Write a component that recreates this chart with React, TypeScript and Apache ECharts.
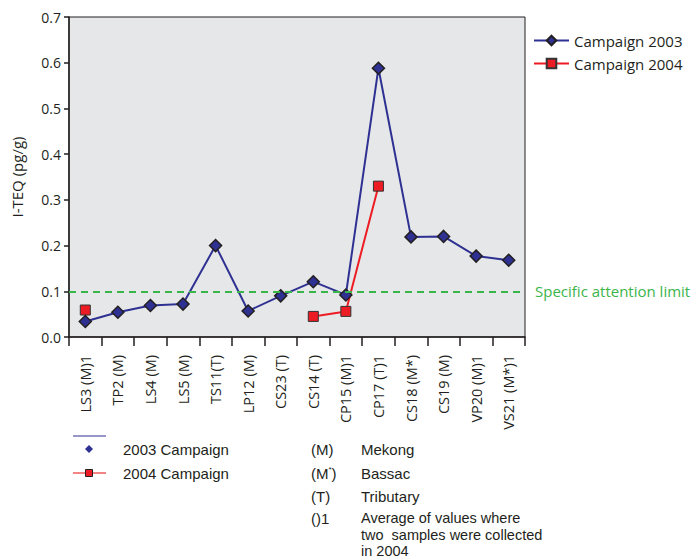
import React, { useEffect, useRef } from "react";
import * as echarts from "echarts";

const categories = [
  "LS3 (M)1", "TP2 (M)", "LS4 (M)", "LS5 (M)", "TS11(T)", "LP12 (M)", "CS23 (T)",
  "CS14 (T)", "CP15 (M)1", "CP17 (T)1", "CS18 (M*)", "CS19 (M)", "VP20 (M)1", "VS21 (M*)1",
];
const campaign2003 = [0.034, 0.054, 0.069, 0.072, 0.2, 0.057, 0.09, 0.121, 0.092, 0.588, 0.219, 0.22, 0.177, 0.168];
const campaign2004: (number | null)[] = [0.059, null, null, null, null, null, null, 0.045, 0.056, 0.33, null, null, null, null];
const yTicks = [0, 0.1, 0.2, 0.3, 0.4, 0.5, 0.6, 0.7];
const attentionLimit = 0.1;
const seriesNames = ["Campaign 2003", "Campaign 2004"];
const noteLegend = ["2003 Campaign", "2004 Campaign"];
const codeKeys = ["(M)", "(M{sup|*})", "(T)", "()1"];
const codeTexts = ["Mekong", "Bassac", "Tributary"];
const averageNoteLines = ["Average of values where", "two  samples were collected", "in 2004"];

const FONT = "'Open Sans', sans-serif";
const NOTE_FONT = "'Liberation Sans', Arial, sans-serif";
const TXT = "#231f20";
const NAVY = "#2e3192";
const RED = "#ed1c24";
const GREEN = "#39b54a";

export default function App() {
  const ref = useRef<HTMLDivElement>(null);
  useEffect(() => {
    if (!ref.current) return;
    const chart = echarts.init(ref.current, null, { renderer: "svg" });
    const rowY = [449, 473, 496, 518];
    const noteY = [518, 535, 551];
    const graphics: any[] = [
      { type: "line", shape: { x1: 73, y1: 436, x2: 106, y2: 436 }, style: { stroke: NAVY, lineWidth: 1 } },
      { type: "polygon", shape: { points: [[89, 445], [93, 449], [89, 453], [85, 449]] }, style: { fill: NAVY } },
      { type: "line", shape: { x1: 73, y1: 473, x2: 106, y2: 473 }, style: { stroke: "#f15a5a", lineWidth: 1.5 } },
      { type: "rect", shape: { x: 85.5, y: 469.5, width: 7, height: 7 }, style: { fill: RED, stroke: TXT, lineWidth: 1 } },
      ...noteLegend.map((t, i) => ({
        type: "text", x: 123, y: rowY[i],
        style: { text: t, fill: TXT, fontSize: 15, fontFamily: NOTE_FONT, verticalAlign: "middle" },
      })),
      ...codeKeys.map((t, i) => ({
        type: "text", x: 311, y: rowY[i],
        style: {
          text: t, fill: TXT, fontSize: 15, fontFamily: NOTE_FONT, verticalAlign: "middle",
          rich: { sup: { fontSize: 8, fontFamily: NOTE_FONT, fill: TXT, verticalAlign: "top", padding: [0, 0, 8, 0] } },
        },
      })),
      ...codeTexts.map((t, i) => ({
        type: "text", x: 361, y: rowY[i],
        style: { text: t, fill: TXT, fontSize: 15, fontFamily: NOTE_FONT, verticalAlign: "middle" },
      })),
      ...averageNoteLines.map((t, i) => ({
        type: "text", x: 361, y: noteY[i],
        style: { text: t, fill: TXT, fontSize: 14.5, fontFamily: NOTE_FONT, verticalAlign: "middle" },
      })),
    ];
    chart.setOption({
      animation: false,
      textStyle: { fontFamily: FONT, color: TXT },
      grid: {
        left: 69, top: 17, right: 171, bottom: 222,
        show: true, backgroundColor: "#e6e7e8", borderColor: TXT, borderWidth: 1,
      },
      legend: {
        orient: "vertical", left: 533, top: 33, padding: 0,
        itemWidth: 35, itemHeight: 12, itemGap: 8,
        textStyle: { fontSize: 15, color: TXT, fontFamily: FONT },
        data: seriesNames,
      },
      xAxis: {
        type: "category", data: categories, boundaryGap: true,
        axisLine: { lineStyle: { color: TXT, width: 1.5 } },
        axisTick: { show: true, interval: 0, length: 9, lineStyle: { color: TXT, width: 1.5 } },
        axisLabel: { rotate: 90, interval: 0, margin: 18, fontSize: 14.5, color: TXT, fontFamily: FONT },
        splitLine: { show: false },
      },
      yAxis: {
        type: "value", min: yTicks[0], max: yTicks[yTicks.length - 1], interval: 0.1,
        name: "I-TEQ (pg/g)", nameLocation: "middle", nameGap: 45,
        nameTextStyle: { fontSize: 15, color: TXT, fontFamily: FONT },
        axisLine: { show: true, lineStyle: { color: TXT, width: 1.5 } },
        axisTick: { show: true, length: 5, lineStyle: { color: TXT, width: 1.5 } },
        axisLabel: { fontSize: 14, color: TXT, margin: 8, fontFamily: FONT, formatter: (v: number) => v.toFixed(1) },
        splitLine: { show: false },
      },
      series: [
        {
          name: seriesNames[0], type: "line", data: campaign2003,
          symbol: "diamond", symbolSize: 12,
          lineStyle: { color: NAVY, width: 2 },
          itemStyle: { color: NAVY, borderColor: TXT, borderWidth: 1.5 },
          z: 3,
          markLine: {
            silent: true, symbol: "none",
            lineStyle: { color: GREEN, type: [7, 5], width: 2 },
            label: {
              show: true, position: "end", distance: 10, formatter: "Specific attention limit",
              color: GREEN, fontSize: 15, fontFamily: FONT,
            },
            data: [{ yAxis: attentionLimit }],
          },
        },
        {
          name: seriesNames[1], type: "line", data: campaign2004, connectNulls: false,
          symbol: "rect", symbolSize: 10,
          lineStyle: { color: RED, width: 2 },
          itemStyle: { color: RED, borderColor: "#333", borderWidth: 1 },
          z: 2,
        },
      ],
      graphic: graphics,
    });
    return () => chart.dispose();
  }, []);
  return <div ref={ref} style={{ position: "absolute", left: 0, top: 0, width: 696, height: 559 }} />;
}
